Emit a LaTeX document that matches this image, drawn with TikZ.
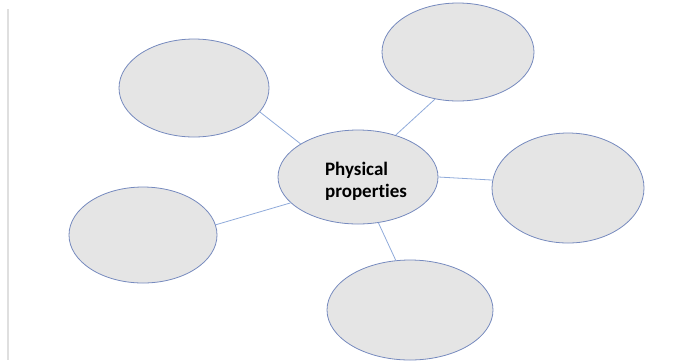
\documentclass[tikz,border=0pt]{standalone}
\usepackage{fontspec}
\setmainfont{Carlito}[Ligatures=NoCommon]
\usepackage{xcolor}
\usepackage{tikz}
\usetikzlibrary{shapes.geometric}

\definecolor{rimblue}{RGB}{118,138,190}
\definecolor{linkblue}{RGB}{143,170,218}
\definecolor{bubblegray}{RGB}{229,229,229}

\begin{document}
\begin{tikzpicture}[
    x=1pt, y=-1pt,
    bubble/.style={ellipse, draw=rimblue, fill=bubblegray, line width=0.8pt, inner sep=0pt},
    link/.style={draw=linkblue, line width=0.8pt}
]

\useasboundingbox (0,0) rectangle (676,360);
\draw [gray!25, line width=1.5pt] (8,9) -- (8,360);

\node (props) [bubble, minimum width=160pt, minimum height=94pt] at (358,177) {};
\node (propstext) [font=\fontsize{19}{22}\selectfont\bfseries, align=left, inner sep=0pt] at ([xshift=8pt, yshift=-4pt]props.center) {Physical\\properties};
\node (tl) [bubble, minimum width=150pt, minimum height=98pt] at (194,88) {};
\node (tr) [bubble, minimum width=152pt, minimum height=98pt] at (458,52) {};
\node (rt) [bubble, minimum width=152pt, minimum height=110pt] at (568,188) {};
\node (lf) [bubble, minimum width=148pt, minimum height=96pt] at (143,235) {};
\node (bt) [bubble, minimum width=166pt, minimum height=100pt] at (410,310) {};

\draw [link] (props.150) -- (tl.-20);
\draw [link] (props.48) -- (tr.-116);
\draw [link] (props.0) -- (rt.174);
\draw [link] (props.201) -- (lf.8);
\draw [link] (props.-66) -- (bt.106);

\end{tikzpicture}
\end{document}
